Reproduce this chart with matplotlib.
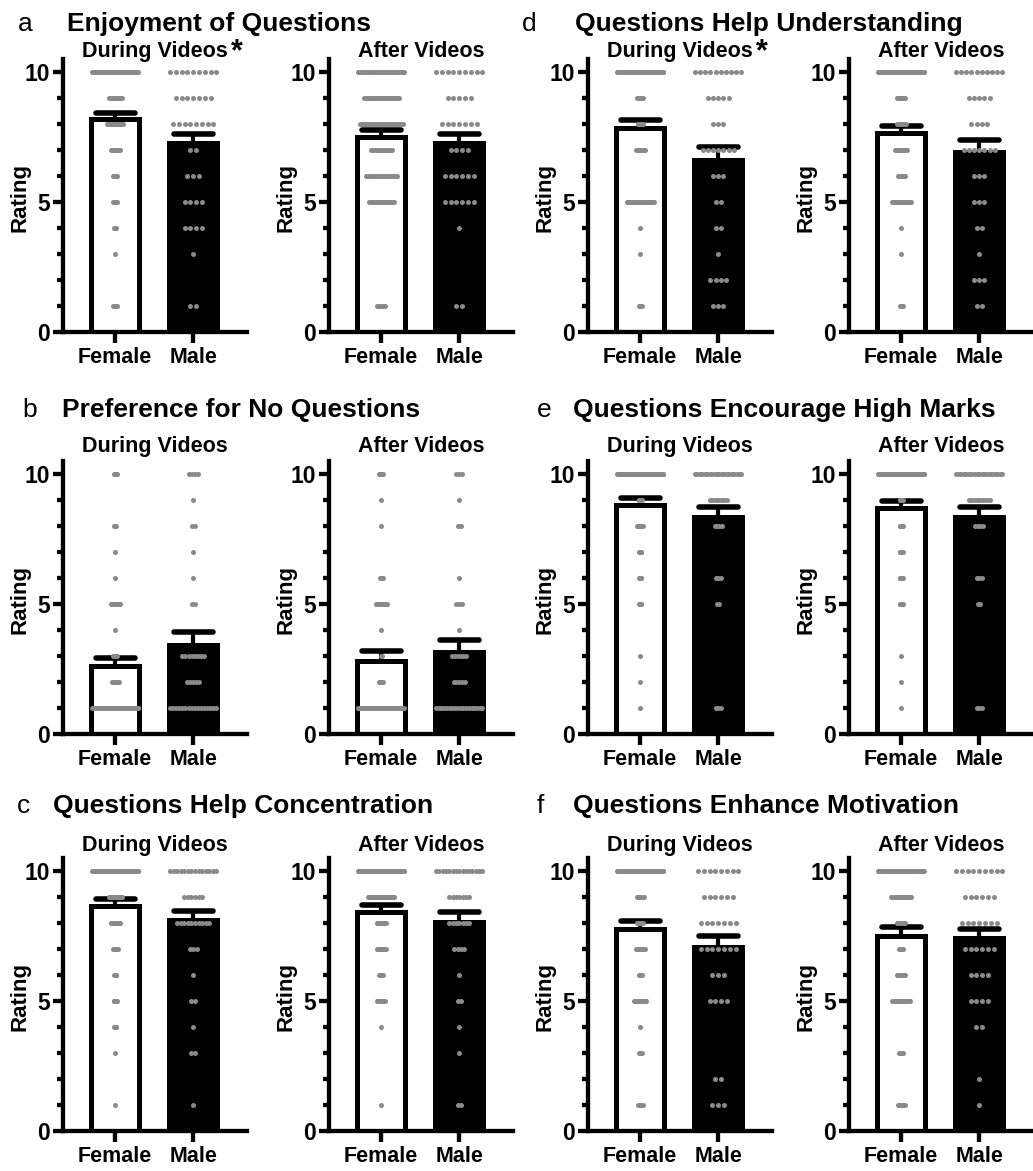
import numpy as np
import matplotlib
matplotlib.use("Agg")
import matplotlib.pyplot as plt
from matplotlib.ticker import FixedLocator

plt.rcParams['font.family'] = ['Liberation Sans', 'DejaVu Sans']

# ---------------------------------------------------------------- data
ratings = np.arange(1, 11)
genders = ["Female", "Male"]
timings = ["During Videos", "After Videos"]

panel_letters = ["a", "b", "c", "d", "e", "f"]
panel_titles = [
    "Enjoyment of Questions",
    "Preference for No Questions",
    "Questions Help Concentration",
    "Questions Help Understanding",
    "Questions Encourage High Marks",
    "Questions Enhance Motivation",
]
# (panel, timing) pairs with a significant gender difference
significant = [("a", 0), ("d", 0)]

# number of respondents giving each rating 1..10; rows = During, After
a_female_counts = [[5, 0, 1, 3, 5, 5, 10, 17, 14, 48],
                   [5, 0, 0, 0, 14, 17, 12, 23, 19, 25]]
a_male_counts = [[2, 0, 1, 4, 4, 3, 2, 8, 7, 9],
                 [2, 0, 0, 1, 6, 6, 4, 7, 5, 9]]
b_female_counts = [[50, 8, 5, 1, 10, 1, 1, 3, 0, 4],
                   [48, 5, 2, 1, 12, 4, 0, 1, 1, 5]]
b_male_counts = [[16, 5, 8, 0, 2, 1, 1, 2, 1, 4],
                 [18, 5, 6, 1, 3, 1, 0, 2, 1, 3]]
c_female_counts = [[1, 0, 1, 4, 5, 4, 7, 13, 17, 60],
                   [1, 0, 0, 1, 9, 5, 10, 10, 28, 50]]
c_male_counts = [[1, 0, 2, 1, 2, 1, 3, 10, 6, 14],
                 [2, 0, 1, 1, 2, 1, 4, 7, 7, 15]]
d_female_counts = [[4, 0, 1, 1, 32, 0, 11, 7, 8, 55],
                   [4, 0, 1, 1, 21, 8, 14, 10, 9, 50]]
d_male_counts = [[3, 4, 1, 2, 2, 3, 7, 3, 5, 10],
                 [2, 3, 1, 2, 3, 3, 7, 4, 5, 10]]
e_female_counts = [[1, 1, 1, 0, 4, 4, 4, 8, 5, 60],
                   [1, 1, 1, 0, 5, 5, 5, 5, 5, 60]]
e_male_counts = [[3, 0, 0, 0, 2, 3, 0, 4, 8, 20],
                 [3, 0, 0, 0, 2, 3, 0, 4, 9, 19]]
f_female_counts = [[6, 0, 4, 1, 14, 4, 10, 7, 8, 50],
                   [7, 0, 4, 0, 16, 8, 4, 8, 18, 40]]
f_male_counts = [[3, 2, 0, 0, 4, 3, 7, 7, 6, 8],
                 [1, 1, 0, 2, 4, 4, 6, 7, 6, 9]]

# mean rating and SEM; rows = During, After; columns = Female, Male
a_means = [[8.20, 7.25], [7.50, 7.27]]
a_sems = [[0.22, 0.36], [0.27, 0.35]]
b_means = [[2.60, 3.43], [2.82, 3.14]]
b_sems = [[0.32, 0.50], [0.36, 0.47]]
c_means = [[8.67, 8.12], [8.44, 8.05]]
c_sems = [[0.26, 0.36], [0.24, 0.38]]
d_means = [[7.85, 6.62], [7.65, 6.93]]
d_sems = [[0.30, 0.50], [0.27, 0.45]]
e_means = [[8.82, 8.35], [8.70, 8.35]]
e_sems = [[0.25, 0.40], [0.26, 0.40]]
f_means = [[7.77, 7.08], [7.50, 7.43]]
f_sems = [[0.32, 0.43], [0.35, 0.35]]

female_counts = [a_female_counts, b_female_counts, c_female_counts,
                 d_female_counts, e_female_counts, f_female_counts]
male_counts = [a_male_counts, b_male_counts, c_male_counts,
               d_male_counts, e_male_counts, f_male_counts]
panel_means = [a_means, b_means, c_means, d_means, e_means, f_means]
panel_sems = [a_sems, b_sems, c_sems, d_sems, e_sems, f_sems]

# ---------------------------------------------------------------- layout
W, H = 1033, 1171
fig = plt.figure(figsize=(W / 100, H / 100), dpi=100)
fig.patch.set_facecolor("white")

col_left = [63, 329, 588, 849]        # y-axis position of each plot (px)
row_base = [332, 734, 1131]           # y = 0 baseline of each row (px)
ax_w, ax_h = 184, 273
XLIM = (-0.67, 1.69)
YLIM = (0, 10.5)

DOT_COLOR = "#8a8a8a"
BAR_W = 0.61
SPREAD_MAX = 0.596     # widest allowed spread of one rating row (data units)
SPREAD_STEP = 0.074    # natural spacing between neighbouring dots

title_letter_x = [[18, 22, 17], [522, 537, 537]]
title_x = [[67, 62, 53], [575, 573, 573]]
title_base = [31, 417, 813]
sub_base = [57, 452, 851]

AX_LW = 3.1


def px_axes(left, base):
    return fig.add_axes([left / W, (H - base) / H, ax_w / W, ax_h / H])


def spread_offsets(counts):
    kmax = max(counts)
    step = SPREAD_STEP if kmax <= 1 else min(SPREAD_STEP, SPREAD_MAX / (kmax - 1))
    xs, ys = [], []
    for r, k in zip(ratings, counts):
        if k == 0:
            continue
        off = (np.arange(k) - (k - 1) / 2) * step
        xs.extend(off)
        ys.extend([r] * k)
    return np.array(xs), np.array(ys)


def draw_plot(ax, f_counts, m_counts, means, sems):
    x = np.arange(len(genders))
    ax.bar(x, means, width=BAR_W, color=["white", "black"],
           edgecolor="black", linewidth=3.6, zorder=2)
    tops = np.array(means) + np.array(sems)
    ax.vlines(x, means, tops, colors="black", linewidth=3.0, zorder=3)
    hl = ax.hlines(tops, x - 0.25, x + 0.25, colors="black",
                   linewidth=4.0, zorder=3)
    hl.set_capstyle("round")
    for xi, cnt in zip(x, [f_counts, m_counts]):
        ox, oy = spread_offsets(cnt)
        ax.scatter(xi + ox, oy, s=13, color=DOT_COLOR, linewidths=0,
                   zorder=4)

    ax.set_xlim(*XLIM)
    ax.set_ylim(*YLIM)
    for side in ("top", "right"):
        ax.spines[side].set_visible(False)
    for side in ("left", "bottom"):
        ax.spines[side].set_linewidth(AX_LW)
        ax.spines[side].set_capstyle("projecting")
    ax.yaxis.set_major_locator(FixedLocator([0, 5, 10]))
    ax.yaxis.set_minor_locator(FixedLocator([1, 2, 3, 4, 6, 7, 8, 9]))
    ax.set_yticklabels(["0", "5", "10"], fontsize=16.5, fontweight="bold")
    ax.tick_params(axis="y", which="major", length=7.5, width=AX_LW, pad=2)
    ax.tick_params(axis="y", which="minor", length=4, width=AX_LW)
    ax.set_xticks(x)
    ax.set_xticklabels(genders, fontsize=15.5, fontweight="bold")
    ax.tick_params(axis="x", length=8, width=AX_LW, pad=3)
    ax.set_facecolor("none")


for p in range(6):
    col_group = p // 3
    row = p % 3
    letter = panel_letters[p]
    fig.text(title_letter_x[col_group][row] / W, 1 - title_base[row] / H,
             letter, fontsize=19, ha="left", va="baseline")
    fig.text(title_x[col_group][row] / W, 1 - title_base[row] / H,
             panel_titles[p], fontsize=19, fontweight="bold",
             ha="left", va="baseline")
    for t in range(2):
        left = col_left[col_group * 2 + t]
        base = row_base[row]
        ax = px_axes(left, base)
        draw_plot(ax, female_counts[p][t], male_counts[p][t],
                  panel_means[p][t], panel_sems[p][t])
        cx = left + ax_w / 2
        fig.text(cx / W, 1 - sub_base[row] / H, timings[t],
                 fontsize=15.5, fontweight="bold", ha="center", va="baseline")
        if (letter, t) in significant:
            fig.text((cx + 76) / W, 1 - (sub_base[row] + 3) / H, "*",
                     fontsize=22, fontweight="bold", ha="left",
                     va="baseline")
        fig.text((left - 43) / W, 1 - (base - ax_h / 2 + 2) / H, "Rating",
                 fontsize=16, fontweight="bold", rotation=90,
                 ha="center", va="center")

fig.savefig("out.png", dpi=100, facecolor="white")
